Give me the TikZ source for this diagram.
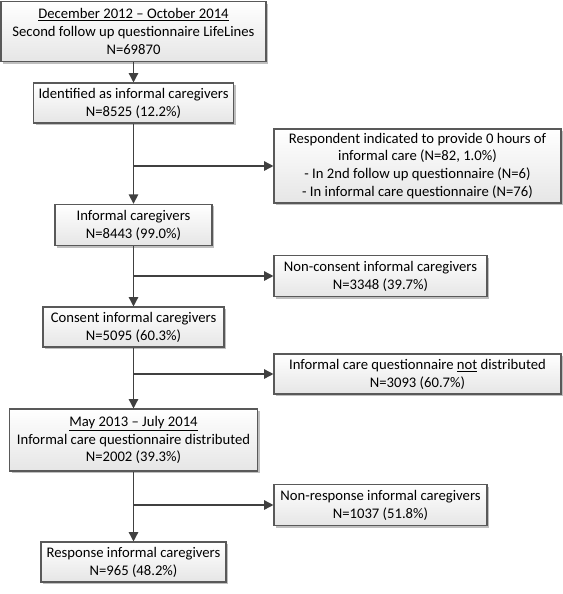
\documentclass[tikz,border=0pt]{standalone}
\usepackage{fontspec}
\setmainfont{Carlito}
\usetikzlibrary{arrows.meta,shadows}
\definecolor{linegray}{HTML}{404040}
\definecolor{boxline}{HTML}{595959}
\tikzset{
  box/.style={draw=boxline, line width=0.8pt, top color=white, bottom color=black!10,
    drop shadow={opacity=0.25, shadow xshift=1.5pt, shadow yshift=-1.5pt, fill=black},
    align=center, font=\fontsize{11pt}{13.4pt}\selectfont, inner sep=2pt},
  conn/.style={draw=linegray, line width=1.1pt},
  arr/.style={conn, -{Triangle[length=7pt,width=7pt]}}
}
\begin{document}
\begin{tikzpicture}[x=0.75pt,y=-0.75pt]
\useasboundingbox (0,0) rectangle (563,594);
\node[box, minimum width=198.75pt, minimum height=45pt] (b1) at (133.5,31.5)
  {\underline{December 2012 -- October 2014}\\Second follow up questionnaire LifeLines\\N=69870};
\node[box, minimum width=150pt, minimum height=30pt] (b2) at (133.5,103)
  {Identified as informal caregivers\\N=8525 (12.2\%)};
\node[box, minimum width=215.25pt, minimum height=55.5pt] (b3) at (417.5,166)
  {Respondent indicated to provide 0 hours of\\informal care (N=82, 1.0\%)\\- In 2nd follow up questionnaire (N=6)\\- In informal care questionnaire (N=76)};
\node[box, minimum width=117.75pt, minimum height=31pt] (b4) at (133.5,225)
  {Informal caregivers\\N=8443 (99.0\%)};
\node[box, minimum width=159.75pt, minimum height=30.75pt] (b5) at (380.5,276)
  {Non-consent informal caregivers\\N=3348 (39.7\%)};
\node[box, minimum width=135.75pt, minimum height=30pt] (b6) at (133.5,327)
  {Consent informal caregivers\\N=5095 (60.3\%)};
\node[box, minimum width=215.25pt, minimum height=30pt] (b7) at (417.5,374)
  {Informal care questionnaire \underline{not} distributed\\N=3093 (60.7\%)};
\node[box, minimum width=186pt, minimum height=46.5pt] (b8) at (133.5,440)
  {\underline{May 2013 -- July 2014}\\Informal care questionnaire distributed\\N=2002 (39.3\%)};
\node[box, minimum width=159.75pt, minimum height=30.75pt] (b9) at (380.5,505)
  {Non-response informal caregivers\\N=1037 (51.8\%)};
\node[box, minimum width=138.75pt, minimum height=30pt] (b10) at (133.5,562)
  {Response informal caregivers\\N=965 (48.2\%)};
\draw[arr] (b1) -- (b2);
\draw[arr] (b2) -- (b4);
\draw[arr] (b2.south |- b3.west) -- (b3.west);
\draw[arr] (b4) -- (b6);
\draw[arr] (b4.south |- b5.west) -- (b5.west);
\draw[arr] (b6) -- (b8);
\draw[arr] (b6.south |- b7.west) -- (b7.west);
\draw[arr] (b8) -- (b10);
\draw[arr] (b8.south |- b9.west) -- (b9.west);
\end{tikzpicture}
\end{document}
